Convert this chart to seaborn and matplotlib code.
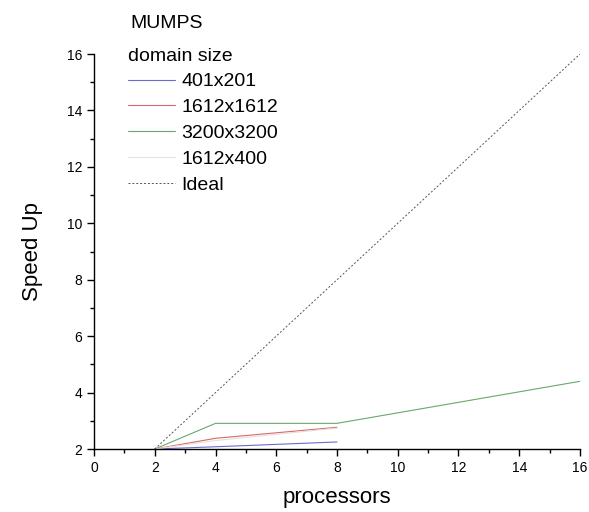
import matplotlib
matplotlib.use("Agg")
import matplotlib.pyplot as plt
from matplotlib.ticker import MultipleLocator
import pandas as pd
import seaborn as sns

# Speed-up measurements of the MUMPS solver per domain size
procs_small = [2, 4, 8]
speedup_401x201 = [2.0, 2.08, 2.25]
speedup_1612x1612 = [2.0, 2.38, 2.77]
procs_large = [2, 4, 8, 16]
speedup_3200x3200 = [2.0, 2.91, 2.91, 4.4]
speedup_1612x400 = [2.0, 2.3, 2.74]
ideal_procs = [2, 16]
ideal_speedup = [2, 16]

series_names = ["401x201", "1612x1612", "3200x3200", "1612x400"]
series_colors = ["#6b6bcc", "#d46a6a", "#6aa86a", "#eadede"]

frames = [
    pd.DataFrame({"processors": procs_small, "speedup": speedup_401x201, "domain": "401x201"}),
    pd.DataFrame({"processors": procs_small, "speedup": speedup_1612x1612, "domain": "1612x1612"}),
    pd.DataFrame({"processors": procs_large, "speedup": speedup_3200x3200, "domain": "3200x3200"}),
    pd.DataFrame({"processors": procs_small, "speedup": speedup_1612x400, "domain": "1612x400"}),
]
df = pd.concat(frames, ignore_index=True)
ideal_df = pd.DataFrame({"processors": ideal_procs, "speedup": ideal_speedup})

sns.set_theme(style="ticks")
plt.rcParams["font.family"] = ["Liberation Sans", "DejaVu Sans"]
plt.rcParams["text.color"] = "black"
plt.rcParams["axes.labelcolor"] = "black"

fig = plt.figure(figsize=(5.89, 5.12), dpi=100)
ax = fig.add_axes([0.1596, 0.123, 0.8251, 0.7715])

sns.lineplot(data=df, x="processors", y="speedup", hue="domain",
             hue_order=series_names, palette=dict(zip(series_names, series_colors)),
             linewidth=0.8, ax=ax, legend=False)
sns.lineplot(data=ideal_df, x="processors", y="speedup", color="#555555",
             linewidth=0.7, linestyle=(0, (2, 2)), ax=ax)

ax.set_xlim(0, 16)
ax.set_ylim(2, 16)
ax.xaxis.set_major_locator(MultipleLocator(2))
ax.xaxis.set_minor_locator(MultipleLocator(1))
ax.yaxis.set_major_locator(MultipleLocator(2))
ax.yaxis.set_minor_locator(MultipleLocator(1))
ax.tick_params(which="major", direction="out", length=5, width=1, labelsize=10,
               color="black", labelcolor="black")
ax.tick_params(which="minor", direction="out", length=3, width=1, color="black")
for side in ("top", "right"):
    ax.spines[side].set_visible(False)
for side in ("left", "bottom"):
    ax.spines[side].set_color("black")
    ax.spines[side].set_linewidth(1)

ax.set_xlabel("processors", fontsize=16, labelpad=9, color="black")
ax.set_ylabel("Speed Up", fontsize=16, labelpad=17, color="black")

handles = [plt.Line2D([], [], color=c, linewidth=0.8) for c in series_colors]
handles.append(plt.Line2D([], [], color="#555555", linewidth=0.7, linestyle=(0, (2, 2))))
labels = series_names + ["Ideal"]
leg = fig.legend(handles, labels, title="domain size", loc="upper left",
                 bbox_to_anchor=(0.2173, 0.907), frameon=False, fontsize=14,
                 title_fontsize=14, handlelength=2.4, handletextpad=0.36,
                 labelspacing=0.42, borderpad=0.0, borderaxespad=0.0,
                 labelcolor="black")
leg.get_title().set_color("black")
leg._legend_box.align = "left"

fig.text(0.2207, 0.955, "MUMPS", fontsize=14, ha="left", va="center", color="black")

fig.savefig("out.png", dpi=100)
